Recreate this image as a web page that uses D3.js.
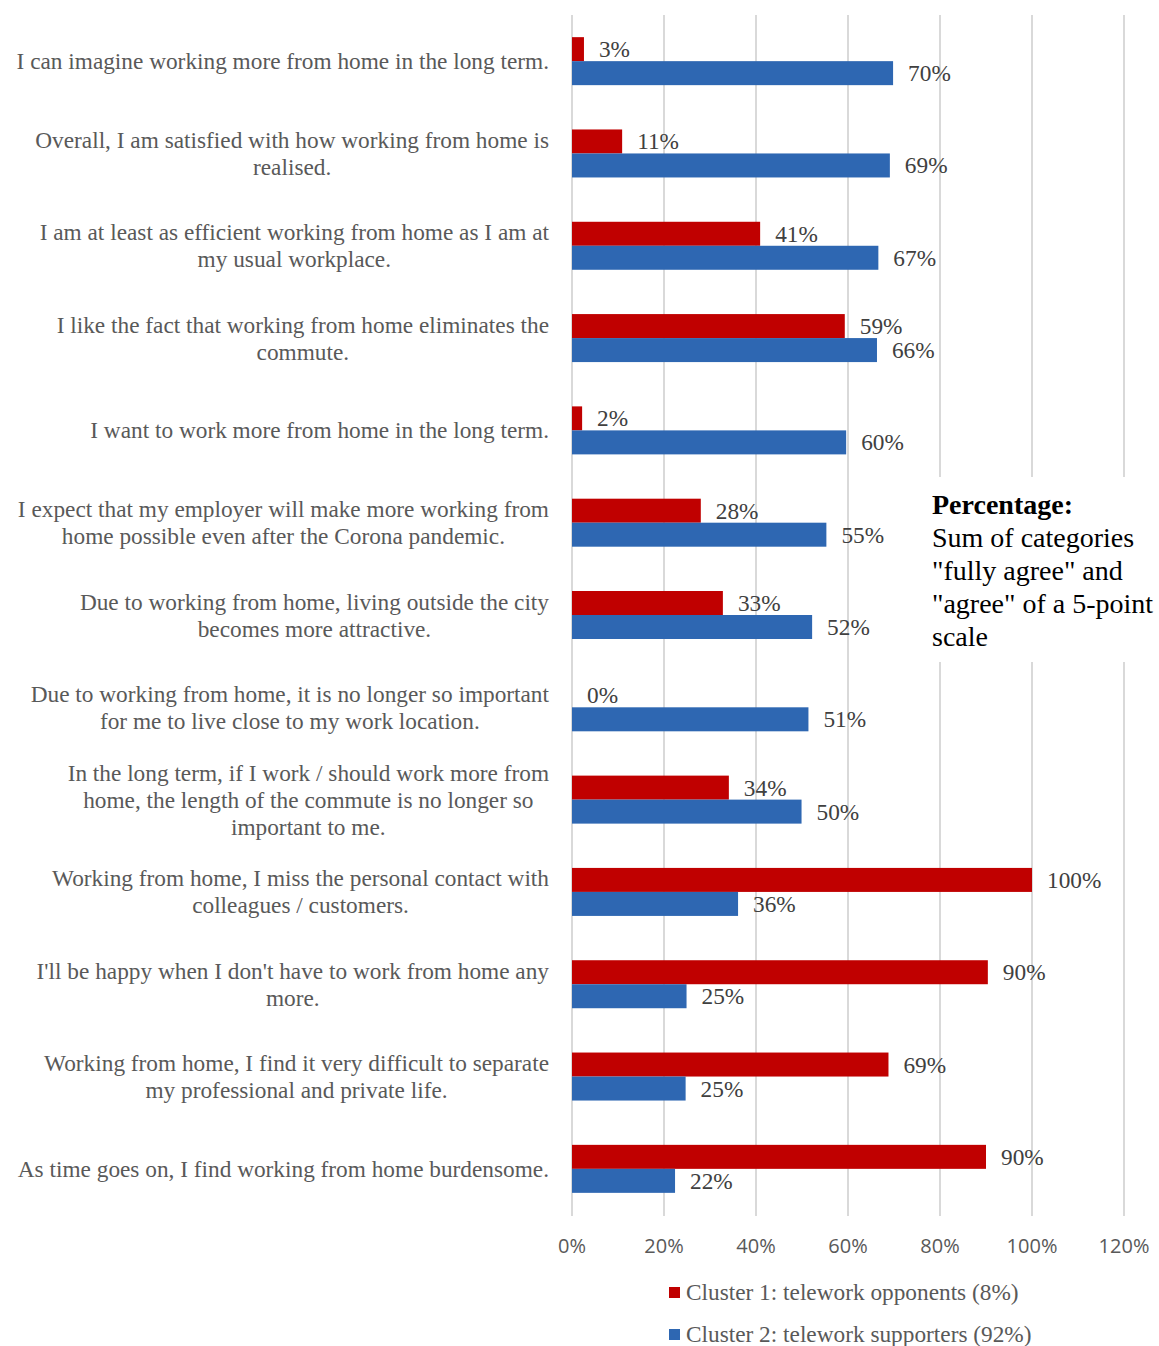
<!DOCTYPE html>
<html>
<head>
<meta charset="utf-8">
<script src="https://cdn.jsdelivr.net/npm/d3@7"></script>
<style>
  body { margin: 0; background: #fff; }
  svg { display: block; }
</style>
</head>
<body>
<svg id="chart" width="1159" height="1346"></svg>
<script>
// statements, top to bottom, with line breaks as in the figure
const statements = [
  ["I can imagine working more from home in the long term."],
  ["Overall, I am satisfied with how working from home is", "realised."],
  ["I am at least as efficient working from home as I am at", "my usual workplace."],
  ["I like the fact that working from home eliminates the", "commute."],
  ["I want to work more from home in the long term."],
  ["I expect that my employer will make more working from", "home possible even after the Corona pandemic."],
  ["Due to working from home, living outside the city", "becomes more attractive."],
  ["Due to working from home, it is no longer so important", "for me to live close to my work location."],
  ["In the long term, if I work / should work more from", "home, the length of the commute is no longer so", "important to me."],
  ["Working from home, I miss the personal contact with", "colleagues / customers."],
  ["I'll be happy when I don't have to work from home any", "more."],
  ["Working from home, I find it very difficult to separate", "my professional and private life."],
  ["As time goes on, I find working from home burdensome."]
];
// values (labels show them rounded)
const opponents = [2.6, 10.9, 40.9, 59.3, 2.2, 28, 32.8, 0, 34.1, 100, 90.4, 68.8, 90];
const supporters = [69.8, 69.1, 66.6, 66.3, 59.6, 55.3, 52.2, 51.4, 49.9, 36.1, 24.9, 24.7, 22.4];
const seriesNames = ["Cluster 1: telework opponents (8%)", "Cluster 2: telework supporters (92%)"];
const xTicks = [0, 20, 40, 60, 80, 100, 120];
const noteTitle = "Percentage:";
const noteLines = ["Sum of categories", "\"fully agree\" and", "\"agree\" of a 5-point", "scale"];

const colors = ["#c00000", "#2e67b2"];
const serif = "'Liberation Serif', 'Times New Roman', serif";

const svg = d3.select("#chart");
const plot = { left: 572, right: 1124, top: 15, bottom: 1215 };

const x = d3.scaleLinear().domain([0, 120]).range([plot.left, plot.right]);
const y = d3.scaleBand()
  .domain(d3.range(statements.length))
  .range([plot.top, plot.bottom])
  .paddingInner(0.48)
  .paddingOuter(0.24);
const sub = d3.scaleBand().domain([0, 1]).range([0, y.bandwidth()]);

// gridlines
svg.append("g")
  .selectAll("line")
  .data(xTicks)
  .join("line")
  .attr("x1", (d) => x(d))
  .attr("x2", (d) => x(d))
  .attr("y1", plot.top)
  .attr("y2", plot.bottom + 1)
  .attr("stroke", "#d9d9d9")
  .attr("stroke-width", 2);

// tick labels
svg.append("g")
  .selectAll("text")
  .data(xTicks)
  .join("text")
  .attr("x", (d) => x(d))
  .attr("y", 1253)
  .attr("text-anchor", "middle")
  .attr("font-family", "'Open Sans', sans-serif")
  .attr("font-size", 20)
  .attr("fill", "#595959")
  .text((d) => d + "%");

// bars
const rows = statements.map((s, i) => ({ i, values: [opponents[i], supporters[i]] }));
const rowG = svg.append("g")
  .selectAll("g")
  .data(rows)
  .join("g")
  .attr("transform", (d) => `translate(0,${y(d.i)})`);

rowG.selectAll("rect")
  .data((d) => d.values.map((v, k) => ({ v, k })))
  .join("rect")
  .attr("x", x(0))
  .attr("y", (d) => sub(d.k))
  .attr("width", (d) => x(d.v) - x(0))
  .attr("height", sub.bandwidth())
  .attr("fill", (d) => colors[d.k]);

rowG.selectAll("text.val")
  .data((d) => d.values.map((v, k) => ({ v, k })))
  .join("text")
  .attr("class", "val")
  .attr("x", (d) => x(d.v) + 15)
  .attr("y", (d) => sub(d.k) + sub.bandwidth() / 2 + 8)
  .attr("font-family", serif)
  .attr("font-size", 23.3)
  .attr("fill", "#404040")
  .text((d) => Math.round(d.v) + "%");

// category labels, lines centred on each other, block right aligned
const labelRight = 549;
const lineH = 27;
const labels = svg.append("g")
  .selectAll("text")
  .data(statements)
  .join("text")
  .attr("font-family", serif)
  .attr("font-size", 23.3)
  .attr("fill", "#595959")
  .attr("text-anchor", "middle");

labels.each(function (lines, i) {
  const t = d3.select(this);
  const cy = y(i) + y.bandwidth() / 2;
  const y0 = cy - ((lines.length - 1) * lineH) / 2 + 8;
  const spans = t.selectAll("tspan")
    .data(lines)
    .join("tspan")
    .attr("y", (d, k) => y0 + k * lineH)
    .text((d) => d);
  let maxW = 0;
  spans.each(function () { maxW = Math.max(maxW, this.getComputedTextLength()); });
  spans.attr("x", labelRight - maxW / 2);
});

// note box
svg.append("rect")
  .attr("x", 922)
  .attr("y", 477)
  .attr("width", 237)
  .attr("height", 185)
  .attr("fill", "#fff");

const note = svg.append("text")
  .attr("font-family", serif)
  .attr("font-size", 28)
  .attr("fill", "#000");
note.append("tspan")
  .attr("x", 932)
  .attr("y", 514)
  .attr("font-weight", "bold")
  .text(noteTitle);
note.selectAll("tspan.l")
  .data(noteLines)
  .join("tspan")
  .attr("class", "l")
  .attr("x", 932)
  .attr("y", (d, k) => 547 + k * 33)
  .text((d) => d);

// legend
const legend = svg.append("g")
  .selectAll("g")
  .data(seriesNames)
  .join("g")
  .attr("transform", (d, k) => `translate(669,${1287 + k * 42})`);
legend.append("rect")
  .attr("width", 11)
  .attr("height", 11)
  .attr("fill", (d, k) => colors[k]);
legend.append("text")
  .attr("x", 17)
  .attr("y", 13)
  .attr("font-family", serif)
  .attr("font-size", 23.3)
  .attr("fill", "#595959")
  .text((d) => d);
</script>
</body>
</html>
